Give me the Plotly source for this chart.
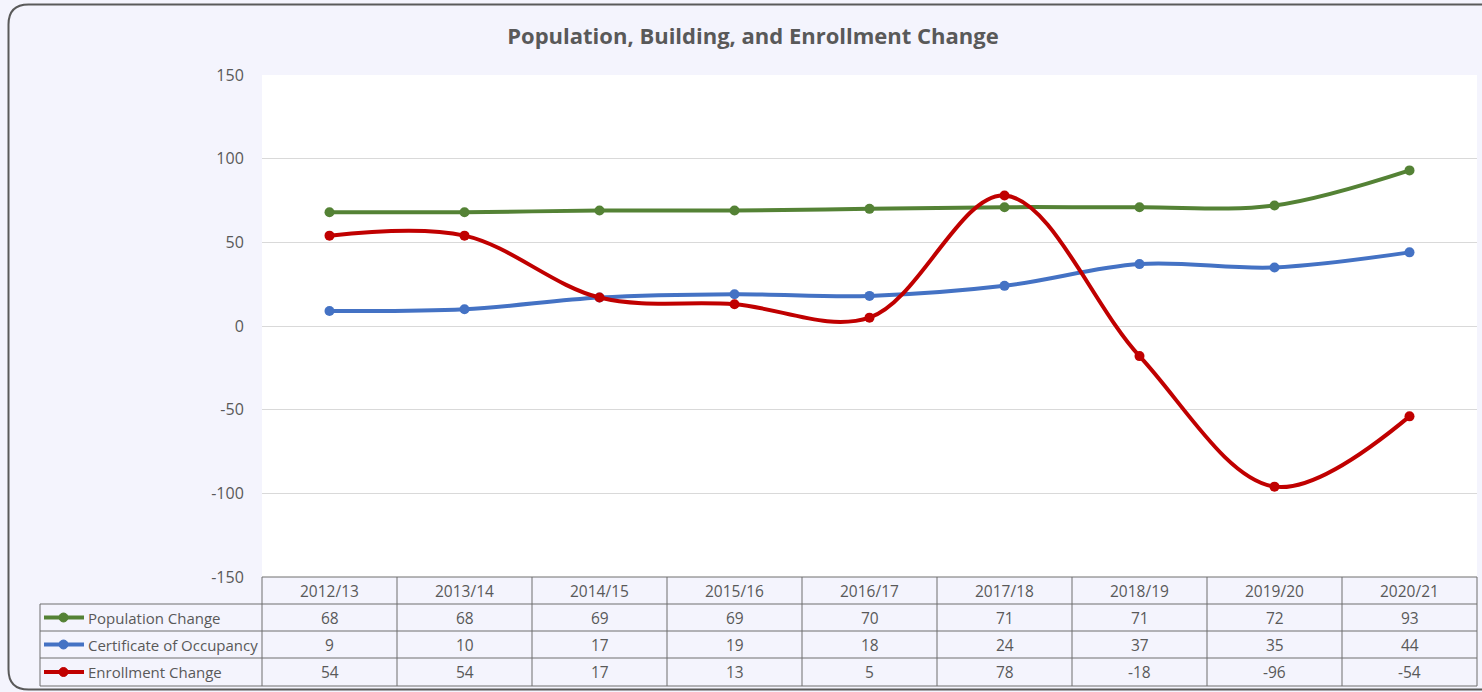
import plotly.graph_objects as go

categories = ["2012/13", "2013/14", "2014/15", "2015/16", "2016/17", "2017/18", "2018/19", "2019/20", "2020/21"]
population = [68, 68, 69, 69, 70, 71, 71, 72, 93]
occupancy = [9, 10, 17, 19, 18, 24, 37, 35, 44]
enrollment = [54, 54, 17, 13, 5, 78, -18, -96, -54]
series_names = ["Population Change", "Certificate of Occupancy", "Enrollment Change"]
y_ticks = [-150, -100, -50, 0, 50, 100, 150]

colors = ["#548235", "#4472C4", "#C00000"]
series = [population, occupancy, enrollment]

W, H = 1482, 692
FONT = "Open Sans"
TXT = "#595959"
BG = "#F4F4FD"
GRID_C = "#D9D9D9"
TABLE_C = "#6E6E6E"
TSIZE = 15.5

def px(x):
    return x / W

def py(y):
    return 1 - y / H

plot_l, plot_r, plot_t, plot_b = 262, 1477, 75, 577
row_lines = [577, 604, 631, 658, 686]
n = len(categories)
col_w = (plot_r - plot_l) / n

fig = go.Figure()
xs = list(range(n))
for name, vals, c in zip(series_names, series, colors):
    fig.add_trace(go.Scatter(
        x=xs, y=vals, name=name, mode="lines+markers",
        line=dict(color=c, width=4, shape="spline", smoothing=1.0),
        marker=dict(color=c, size=10),
        showlegend=False, cliponaxis=False,
    ))

shapes = []
# outer rounded border
r = 20
x0, y0, x1, y1 = 8.5, 4.5, 1495, 689.5
path = (f"M {px(x0+r)},{py(y0)} L {px(x1)},{py(y0)} L {px(x1)},{py(y1)} L {px(x0+r)},{py(y1)} "
        f"Q {px(x0)},{py(y1)} {px(x0)},{py(y1-r)} L {px(x0)},{py(y0+r)} Q {px(x0)},{py(y0)} {px(x0+r)},{py(y0)} Z")
shapes.append(dict(type="path", xref="paper", yref="paper", path=path,
                   line=dict(color="#5A5A5A", width=2), fillcolor="rgba(0,0,0,0)", layer="below"))

# table horizontal lines
shapes.append(dict(type="line", xref="paper", yref="paper", x0=px(plot_l), x1=px(plot_r),
                   y0=py(row_lines[0]), y1=py(row_lines[0]), line=dict(color=TABLE_C, width=1)))
for yl in row_lines[1:]:
    shapes.append(dict(type="line", xref="paper", yref="paper", x0=px(40), x1=px(plot_r),
                       y0=py(yl), y1=py(yl), line=dict(color=TABLE_C, width=1)))
# vertical lines
for k in range(n + 1):
    xv = plot_l + k * col_w
    shapes.append(dict(type="line", xref="paper", yref="paper", x0=px(xv), x1=px(xv),
                       y0=py(577), y1=py(686), line=dict(color=TABLE_C, width=1)))
shapes.append(dict(type="line", xref="paper", yref="paper", x0=px(40), x1=px(40),
                   y0=py(604), y1=py(686), line=dict(color=TABLE_C, width=1)))

annotations = []
# header row
for i, cat in enumerate(categories):
    annotations.append(dict(x=i, xref="x", y=py(590.5), yref="paper", text=cat, showarrow=False,
                            font=dict(family=FONT, size=TSIZE, color=TXT), xanchor="center", yanchor="middle"))
row_centers = [617.5, 644.5, 672]
for rc, name, vals, c in zip(row_centers, series_names, series, colors):
    # legend key
    shapes.append(dict(type="line", xref="paper", yref="paper", x0=px(44), x1=px(84),
                       y0=py(rc), y1=py(rc), line=dict(color=c, width=4)))
    shapes.append(dict(type="circle", xref="paper", yref="paper", x0=px(59), x1=px(68),
                       y0=py(rc - 4.5), y1=py(rc + 4.5), line=dict(color=c, width=1), fillcolor=c))
    annotations.append(dict(x=px(85.5), xref="paper", y=py(rc), yref="paper", text=name, showarrow=False,
                            font=dict(family=FONT, size=15, color=TXT), xanchor="left", yanchor="middle"))
    for i, v in enumerate(vals):
        annotations.append(dict(x=i, xref="x", y=py(rc), yref="paper", text=str(v), showarrow=False,
                                font=dict(family=FONT, size=TSIZE, color=TXT), xanchor="center", yanchor="middle"))

fig.update_layout(
    width=W, height=H,
    margin=dict(l=0, r=0, t=0, b=0, autoexpand=False),
    paper_bgcolor=BG, plot_bgcolor="white",
    title=dict(text="<b>Population, Building, and Enrollment Change</b>", x=px(753), xanchor="center",
               y=py(36), yanchor="middle", font=dict(family=FONT, size=22, color=TXT)),
    xaxis=dict(domain=[px(plot_l), px(plot_r)], range=[-0.5, n - 0.5], showgrid=False,
               showticklabels=False, zeroline=False, showline=False, fixedrange=True, automargin=False),
    yaxis=dict(domain=[py(plot_b), py(plot_t)], range=[-150, 150], tickvals=y_ticks,
               ticktext=[str(v) for v in y_ticks], automargin=False,
               showgrid=True, gridcolor=GRID_C, gridwidth=1, zeroline=False, showline=False,
               ticks="outside", ticklen=14, tickcolor="rgba(0,0,0,0)",
               tickfont=dict(family=FONT, size=16, color=TXT), fixedrange=True),
    shapes=shapes, annotations=annotations,
    showlegend=False,
)

fig.write_html("out.html", config={"displayModeBar": False},
               post_script="document.body.style.margin='0';document.body.style.overflow='hidden';")
